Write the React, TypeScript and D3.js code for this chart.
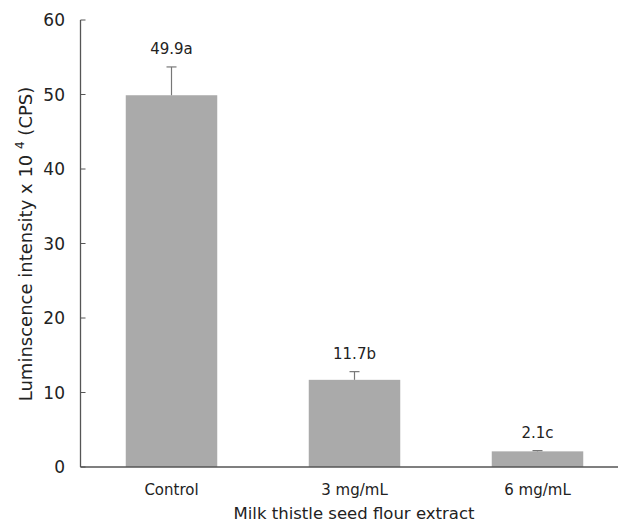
import React, { useEffect, useRef } from "react";
import * as d3 from "d3";

const categories = ["Control", "3 mg/mL", "6 mg/mL"];
const values = [49.9, 11.7, 2.1];
const errors = [3.8, 1.1, 0.1];
const letters = ["a", "b", "c"];
const yTicks = [0, 10, 20, 30, 40, 50, 60];

export default function App() {
  const ref = useRef<SVGSVGElement>(null);
  useEffect(() => {
    const svg = d3.select(ref.current);
    svg.selectAll("*").remove();
    const font = "'DejaVu Sans', sans-serif";
    const left = 80.5, right = 618, top = 20, bottom = 467;
    const x = d3.scaleBand().domain(categories).range([80, 629]).paddingInner(0.5).paddingOuter(0.25);
    const y = d3.scaleLinear().domain([0, 60]).range([bottom, top]);
    const axisColor = "#555";
    const textColor = "#222";

    // bars
    svg.selectAll("rect.bar").data(categories).enter().append("rect")
      .attr("x", (d) => x(d)!)
      .attr("y", (d, i) => y(values[i]))
      .attr("width", x.bandwidth())
      .attr("height", (d, i) => bottom - y(values[i]))
      .attr("fill", "#aaaaaa");

    // error bars and labels
    categories.forEach((c, i) => {
      const cx = x(c)! + x.bandwidth() / 2;
      const yt = y(values[i] + errors[i]);
      svg.append("line").attr("x1", cx).attr("x2", cx).attr("y1", y(values[i])).attr("y2", yt)
        .attr("stroke", "#777").attr("stroke-width", 1.2);
      svg.append("line").attr("x1", cx - 5).attr("x2", cx + 5).attr("y1", yt).attr("y2", yt)
        .attr("stroke", "#777").attr("stroke-width", 1.2);
      svg.append("text").attr("x", cx).attr("y", yt - 13)
        .attr("text-anchor", "middle").attr("font-family", font).attr("font-size", 15)
        .attr("fill", textColor).text(values[i].toFixed(1) + letters[i]);
      svg.append("text").attr("x", cx).attr("y", 495)
        .attr("text-anchor", "middle").attr("font-family", font).attr("font-size", 15)
        .attr("fill", textColor).text(c);
    });

    // axes
    svg.append("line").attr("x1", left).attr("x2", left).attr("y1", top).attr("y2", bottom)
      .attr("stroke", axisColor).attr("stroke-width", 1.3);
    svg.append("line").attr("x1", left).attr("x2", right).attr("y1", bottom).attr("y2", bottom)
      .attr("stroke", axisColor).attr("stroke-width", 1.5);
    yTicks.forEach((t) => {
      svg.append("line").attr("x1", left).attr("x2", left + 5).attr("y1", y(t)).attr("y2", y(t))
        .attr("stroke", axisColor).attr("stroke-width", 1);
      svg.append("text").attr("x", 65).attr("y", y(t)).attr("dy", "0.36em")
        .attr("text-anchor", "end").attr("font-family", font).attr("font-size", 17)
        .attr("fill", textColor).text(String(t));
    });

    // axis titles
    svg.append("text").attr("x", 354).attr("y", 519).attr("text-anchor", "middle")
      .attr("font-family", font).attr("font-size", 16.5).attr("fill", textColor)
      .text("Milk thistle seed flour extract");
    const ytl = svg.append("text").attr("transform", "translate(32,244) rotate(-90)")
      .attr("text-anchor", "middle").attr("font-family", font).attr("font-size", 18)
      .attr("fill", textColor);
    ytl.append("tspan").text("Luminscence intensity x 10 ");
    ytl.append("tspan").attr("dy", -8).attr("font-size", 12).text("4");
    ytl.append("tspan").attr("dy", 8).text(" (CPS)");
  }, []);
  return (
    <svg ref={ref} width={619} height={524} style={{ position: "absolute", left: 0, top: 0, background: "#fff" }} />
  );
}
